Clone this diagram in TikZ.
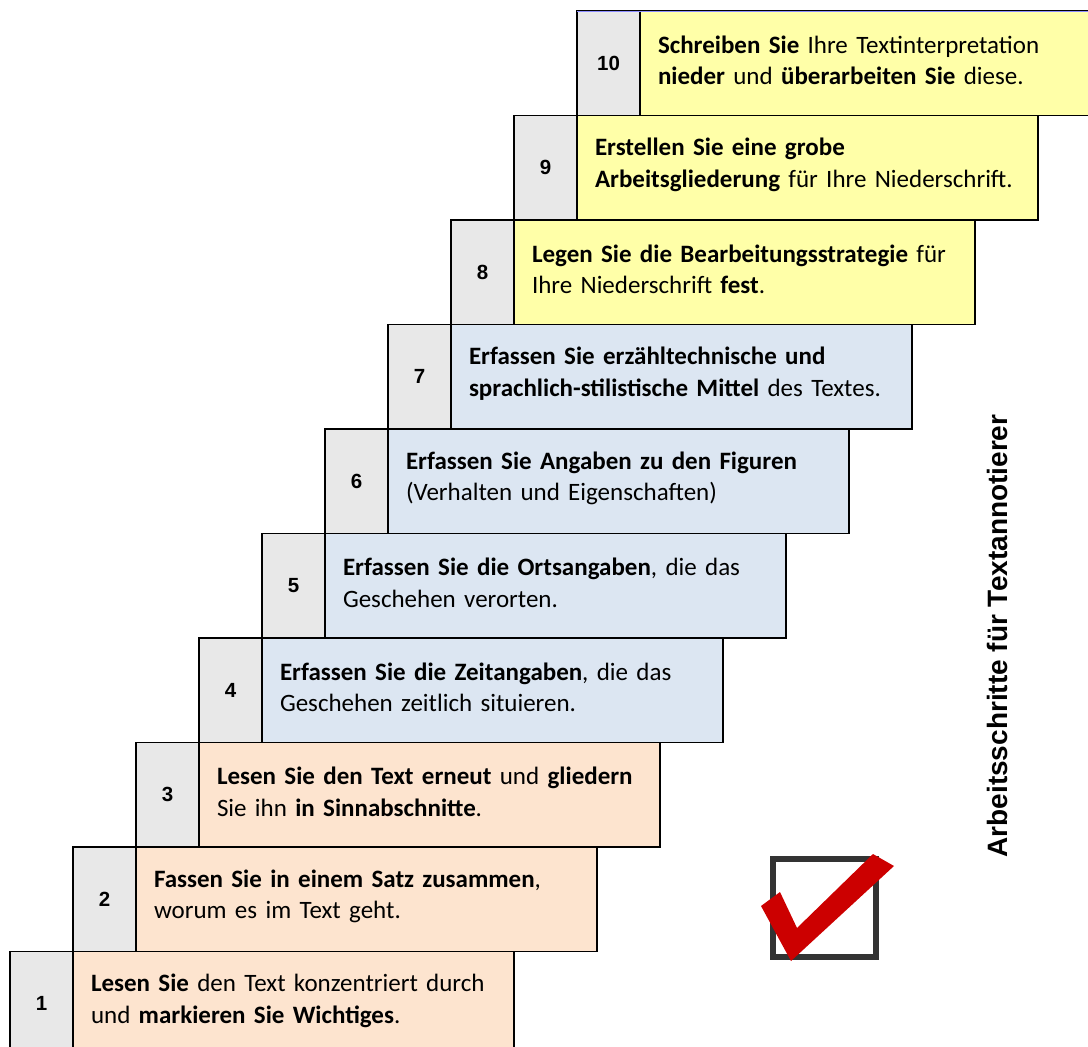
\documentclass[tikz,border=0pt]{standalone}
\usepackage{fontspec}
\setmainfont{Carlito}
\newfontfamily\arialfont{Liberation Sans}
\usetikzlibrary{positioning}
\definecolor{stepgray}{HTML}{E8E8E8}
\definecolor{peach}{HTML}{FDE4CF}
\definecolor{lightblue}{HTML}{DCE6F2}
\definecolor{paleyellow}{HTML}{FFFFA8}
\definecolor{checkred}{HTML}{CC0000}
\tikzstyle{numbox} = [rectangle, draw=black, fill=stepgray, line width=1.5pt, outer sep=0pt, minimum width=63pt, minimum height=104.5pt, inner sep=0pt, font=\arialfont\fontsize{20.5}{24}\selectfont\bfseries]
\tikzstyle{textbox} = [rectangle, draw=black, line width=1.5pt, outer sep=0pt, minimum height=104.5pt, text width=425pt, inner xsep=18pt, align=left, font=\fontsize{25}{31.5}\selectfont, execute at end node={\endgraf\vspace*{6pt}}]
\tikzstyle{orangebox} = [textbox, fill=peach]
\tikzstyle{bluebox} = [textbox, fill=lightblue]
\tikzstyle{yellowbox} = [textbox, fill=paleyellow]

\begin{document}
\begin{tikzpicture}[x=1pt,y=-1pt]
            \useasboundingbox (0,0) rectangle (1088,1047);
            \node (n1) [numbox, anchor=south west] at (10,1056) {1};
            \node (t1) [orangebox, right=0pt of n1, text width=405pt] {\textbf{Lesen Sie} den Text konzentriert durch\\und \textbf{markieren Sie Wichtiges}.};
            \node (n2) [numbox, above right=0pt of n1.north east] {2};
            \node (t2) [orangebox, right=0pt of n2] {\textbf{Fassen Sie in einem Satz zusammen},\\worum es im Text geht.};
            \node (n3) [numbox, above right=0pt of n2.north east] {3};
            \node (t3) [orangebox, right=0pt of n3] {\textbf{Lesen Sie den Text erneut} und \textbf{gliedern}\\Sie ihn \textbf{in Sinnabschnitte}.};
            \node (n4) [numbox, above right=0pt of n3.north east] {4};
            \node (t4) [bluebox, right=0pt of n4] {\textbf{Erfassen Sie die Zeitangaben}, die das\\Geschehen zeitlich situieren.};
            \node (n5) [numbox, above right=0pt of n4.north east] {5};
            \node (t5) [bluebox, right=0pt of n5] {\textbf{Erfassen Sie die Ortsangaben}, die das\\Geschehen verorten.};
            \node (n6) [numbox, above right=0pt of n5.north east] {6};
            \node (t6) [bluebox, right=0pt of n6] {\textbf{Erfassen Sie Angaben zu den Figuren}\\(Verhalten und Eigenschaften)};
            \node (n7) [numbox, above right=0pt of n6.north east] {7};
            \node (t7) [bluebox, right=0pt of n7] {\textbf{Erfassen Sie erzähltechnische und}\\\textbf{sprachlich-stilistische Mittel} des Textes.};
            \node (n8) [numbox, above right=0pt of n7.north east] {8};
            \node (t8) [yellowbox, right=0pt of n8] {\textbf{Legen Sie die Bearbeitungsstrategie} für\\Ihre Niederschrift \textbf{fest}.};
            \node (n9) [numbox, above right=0pt of n8.north east] {9};
            \node (t9) [yellowbox, right=0pt of n9] {\textbf{Erstellen Sie eine grobe}\\\textbf{Arbeitsgliederung} für Ihre Niederschrift.};
            \node (n10) [numbox, above right=0pt of n9.north east] {10};
            \node (t10) [yellowbox, right=0pt of n10, text width=450pt] {\textbf{Schreiben Sie} Ihre Textinterpretation\\\textbf{nieder} und \textbf{überarbeiten Sie} diese.};
            \draw [line width=1pt, color=blue!45] (n10.north west) -- (t10.north east);

            \node (title) [rotate=90, font=\arialfont\fontsize{28}{32}\selectfont\bfseries] at (997,636) {Arbeitsschritte für Textannotierer};

            % checkbox with red tick
            \draw [line width=6pt, color=black!80] (773,859) rectangle (876,957);
            \fill [checkred] (761,906) -- (780,892) -- (797,928) -- (873,854) -- (894,866) -- (791,961) -- cycle;
        \end{tikzpicture}
\end{document}
